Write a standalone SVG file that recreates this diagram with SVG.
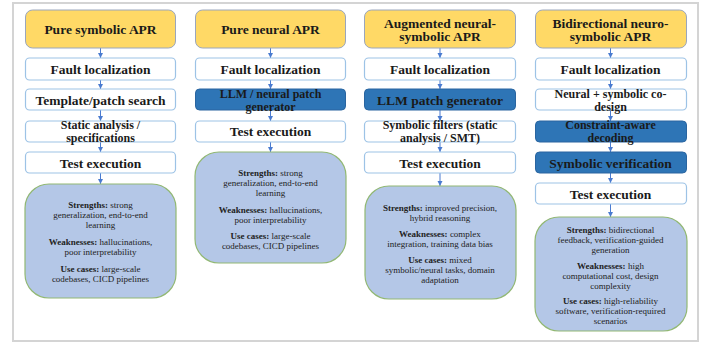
<svg xmlns="http://www.w3.org/2000/svg" width="715" height="342" viewBox="0 0 715 342">
<style>
.frame{fill:#fff;stroke:#d4d4d4;stroke-width:2}
.head{fill:#ffd966;stroke:#9aa6bd;stroke-width:1}
.step{fill:#fff;stroke:#9dc3e6;stroke-width:1.2}
.dark{fill:#2e75b6;stroke:#2a65a0;stroke-width:1}
.sum{fill:#b4c7e7;stroke:#92b874;stroke-width:1.2}
.t{font-family:"Liberation Serif","DejaVu Serif",serif;font-weight:bold;font-size:13.5px;fill:#1a1a1a;text-anchor:middle}
.t2{font-size:12px}
.s{font-family:"Liberation Serif","DejaVu Serif",serif;font-size:9px;fill:#222;text-anchor:middle}
.s .b{font-weight:bold}
.con line{stroke:#4a7bd0;stroke-width:1;marker-end:url(#ah)}
</style>
<defs>
<marker id="ah" markerWidth="6" markerHeight="6" refX="5" refY="3" orient="auto" markerUnits="userSpaceOnUse">
<path d="M0,0.5 L5,3 L0,5.5 Z" fill="#4a7bd0"/>
</marker>
</defs>
<rect class="frame" x="13" y="3" width="685" height="338"/>

<g class="con">
<line x1="100.5" y1="48" x2="100.5" y2="58"/>
<line x1="100.5" y1="80" x2="100.5" y2="89"/>
<line x1="100.5" y1="110" x2="100.5" y2="121"/>
<line x1="100.5" y1="142" x2="100.5" y2="152"/>
<line x1="100.5" y1="173" x2="100.5" y2="184"/>
<line x1="270.5" y1="48" x2="270.5" y2="58"/>
<line x1="270.5" y1="80" x2="270.5" y2="89"/>
<line x1="270.5" y1="110" x2="270.5" y2="121"/>
<line x1="270.5" y1="142" x2="270.5" y2="152"/>
<line x1="440" y1="48" x2="440" y2="58"/>
<line x1="440" y1="80" x2="440" y2="89"/>
<line x1="440" y1="110" x2="440" y2="121"/>
<line x1="440" y1="142" x2="440" y2="152"/>
<line x1="440" y1="173" x2="440" y2="186"/>
<line x1="610.5" y1="48" x2="610.5" y2="58"/>
<line x1="610.5" y1="80" x2="610.5" y2="89"/>
<line x1="610.5" y1="110" x2="610.5" y2="121"/>
<line x1="610.5" y1="142" x2="610.5" y2="152"/>
<line x1="610.5" y1="173" x2="610.5" y2="183"/>
<line x1="610.5" y1="204" x2="610.5" y2="217"/>
</g>

<!-- Column 1 -->
<g id="c1-head"><rect class="head" x="25.5" y="10" width="150" height="38" rx="7"/><text class="t" x="100.5" y="33.5">Pure symbolic APR</text></g>
<g id="c1-fault"><rect class="step" x="25.5" y="58" width="150" height="22" rx="4"/><text class="t" x="100.5" y="74">Fault localization</text></g>
<g id="c1-template"><rect class="step" x="25.5" y="89" width="150" height="21" rx="4"/><text class="t" x="100.5" y="104.5">Template/patch search</text></g>
<g id="c1-static"><rect class="step" x="25.5" y="121" width="150" height="21" rx="4"/><text class="t t2" x="100.5" y="129">Static analysis /</text><text class="t t2" x="100.5" y="141.5">specifications</text></g>
<g id="c1-test"><rect class="step" x="25.5" y="152" width="150" height="21" rx="4"/><text class="t" x="100.5" y="167.5">Test execution</text></g>
<g id="c1-summary"><rect class="sum" x="25" y="184" width="151" height="114" rx="24"/>
<text class="s" x="100.5" y="208"><tspan class="b">Strengths:</tspan> strong</text>
<text class="s" x="100.5" y="218">generalization, end-to-end</text>
<text class="s" x="100.5" y="228">learning</text>
<text class="s" x="100.5" y="245"><tspan class="b">Weaknesses:</tspan> hallucinations,</text>
<text class="s" x="100.5" y="255">poor interpretability</text>
<text class="s" x="100.5" y="272"><tspan class="b">Use cases:</tspan> large-scale</text>
<text class="s" x="100.5" y="282">codebases, CICD pipelines</text>
</g>

<!-- Column 2 -->
<g id="c2-head"><rect class="head" x="195.5" y="10" width="150" height="38" rx="7"/><text class="t" x="270.5" y="33.5">Pure neural APR</text></g>
<g id="c2-fault"><rect class="step" x="195.5" y="58" width="150" height="22" rx="4"/><text class="t" x="270.5" y="74">Fault localization</text></g>
<g id="c2-llm"><rect class="dark" x="195.5" y="89" width="150" height="21" rx="4"/><text class="t t2" x="270.5" y="98">LLM / neural patch</text><text class="t t2" x="270.5" y="110.5">generator</text></g>
<g id="c2-test"><rect class="step" x="195.5" y="121" width="150" height="21" rx="4"/><text class="t" x="270.5" y="135.5">Test execution</text></g>
<g id="c2-summary"><rect class="sum" x="195" y="152" width="151" height="111" rx="24"/>
<text class="s" x="270.5" y="176"><tspan class="b">Strengths:</tspan> strong</text>
<text class="s" x="270.5" y="186">generalization, end-to-end</text>
<text class="s" x="270.5" y="196">learning</text>
<text class="s" x="270.5" y="213"><tspan class="b">Weaknesses:</tspan> hallucinations,</text>
<text class="s" x="270.5" y="223">poor interpretability</text>
<text class="s" x="270.5" y="239"><tspan class="b">Use cases:</tspan> large-scale</text>
<text class="s" x="270.5" y="249">codebases, CICD pipelines</text>
</g>

<!-- Column 3 -->
<g id="c3-head"><rect class="head" x="364.5" y="10" width="151" height="38" rx="7"/><text class="t" x="440" y="27.5">Augmented neural-</text><text class="t" x="440" y="41">symbolic APR</text></g>
<g id="c3-fault"><rect class="step" x="364.5" y="58" width="151" height="22" rx="4"/><text class="t" x="440" y="74">Fault localization</text></g>
<g id="c3-llm"><rect class="dark" x="364.5" y="89" width="151" height="21" rx="4"/><text class="t" x="440" y="104.5">LLM patch generator</text></g>
<g id="c3-filters"><rect class="step" x="364.5" y="121" width="151" height="21" rx="4"/><text class="t t2" x="440" y="129">Symbolic filters (static</text><text class="t t2" x="440" y="141.5">analysis / SMT)</text></g>
<g id="c3-test"><rect class="step" x="364.5" y="152" width="151" height="21" rx="4"/><text class="t" x="440" y="167.5">Test execution</text></g>
<g id="c3-summary"><rect class="sum" x="365" y="186" width="151" height="113" rx="24"/>
<text class="s" x="440" y="211"><tspan class="b">Strengths:</tspan> improved precision,</text>
<text class="s" x="440" y="221">hybrid reasoning</text>
<text class="s" x="440" y="237"><tspan class="b">Weaknesses:</tspan> complex</text>
<text class="s" x="440" y="247">integration, training data bias</text>
<text class="s" x="440" y="263"><tspan class="b">Use cases:</tspan> mixed</text>
<text class="s" x="440" y="273">symbolic/neural tasks, domain</text>
<text class="s" x="440" y="283">adaptation</text>
</g>

<!-- Column 4 -->
<g id="c4-head"><rect class="head" x="535.5" y="10" width="151" height="38" rx="7"/><text class="t" x="610.5" y="27.5">Bidirectional neuro-</text><text class="t" x="610.5" y="41">symbolic APR</text></g>
<g id="c4-fault"><rect class="step" x="535.5" y="58" width="151" height="22" rx="4"/><text class="t" x="610.5" y="74">Fault localization</text></g>
<g id="c4-codesign"><rect class="step" x="535.5" y="89" width="151" height="21" rx="4"/><text class="t t2" x="610.5" y="98">Neural + symbolic co-</text><text class="t t2" x="610.5" y="110.5">design</text></g>
<g id="c4-decoding"><rect class="dark" x="535.5" y="121" width="151" height="21" rx="4"/><text class="t t2" x="610.5" y="129">Constraint-aware</text><text class="t t2" x="610.5" y="141.5">decoding</text></g>
<g id="c4-verif"><rect class="dark" x="535.5" y="152" width="151" height="21" rx="4"/><text class="t" x="610.5" y="167.5">Symbolic verification</text></g>
<g id="c4-test"><rect class="step" x="535.5" y="183" width="151" height="21" rx="4"/><text class="t" x="610.5" y="198.5">Test execution</text></g>
<g id="c4-summary"><rect class="sum" x="535" y="217" width="152" height="114" rx="24"/>
<text class="s" x="610.5" y="233"><tspan class="b">Strengths:</tspan> bidirectional</text>
<text class="s" x="610.5" y="243">feedback, verification-guided</text>
<text class="s" x="610.5" y="253">generation</text>
<text class="s" x="610.5" y="269"><tspan class="b">Weaknesses:</tspan> high</text>
<text class="s" x="610.5" y="279">computational cost, design</text>
<text class="s" x="610.5" y="289">complexity</text>
<text class="s" x="610.5" y="304"><tspan class="b">Use cases:</tspan> high-reliability</text>
<text class="s" x="610.5" y="314">software, verification-required</text>
<text class="s" x="610.5" y="324">scenarios</text>
</g>
</svg>
